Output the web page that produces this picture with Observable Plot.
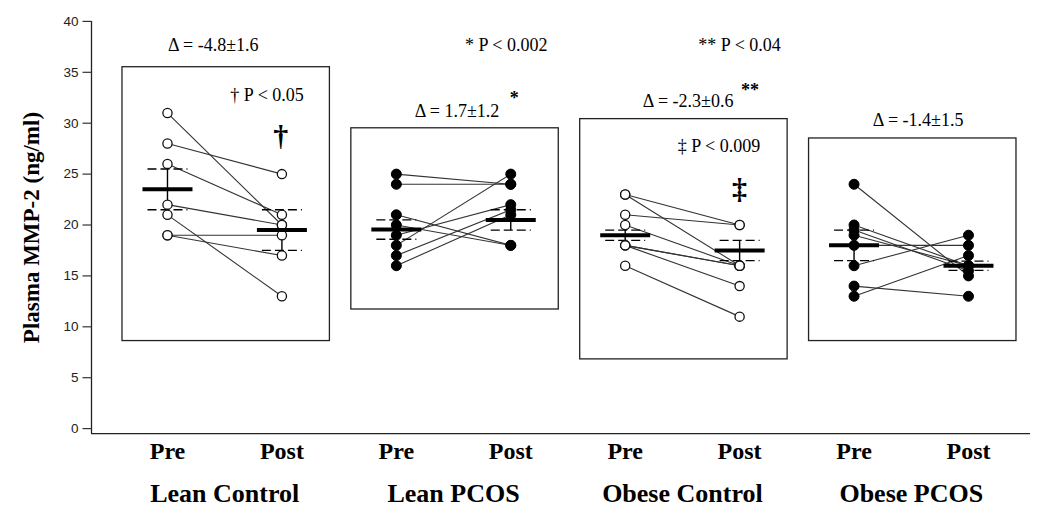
<!DOCTYPE html>
<html><head><meta charset="utf-8">
<script src="https://cdn.jsdelivr.net/npm/d3@7"></script>
<script src="https://cdn.jsdelivr.net/npm/@observablehq/plot@0.6"></script>
<style>
html,body{margin:0;padding:0;background:#fff}
#chart svg{display:block}
</style>
</head><body><div id="chart"></div>
<script>
// ---- data ----
const groups = ["Lean Control", "Lean PCOS", "Obese Control", "Obese PCOS"];
const phases = ["Pre", "Post"];
const openMarker = [true, false, true, false];

const lcPre  = [31, 28, 26, 22, 21, 19, 19];
const lcPost = [20, 25, 21, 20, 13, 19, 17];
const lpPre  = [25, 24, 21, 20, 19, 18, 17, 16];
const lpPost = [24, 24, 18, 18, 22, 25, 21.5, 21];
const ocPre  = [23, 23, 21, 20, 18, 18, 18, 16];
const ocPost = [20, 16, 20, 16, 16, 16, 14, 11];
const opPre  = [24, 20, 19.5, 19, 18, 16, 14, 13];
const opPost = [15, 16, 15.5, 16, 18, 19, 13, 17];

const meanPre  = [23.5, 19.55, 19.0, 18.0];
const sePre    = [2.0, 0.95, 0.5, 1.5];
const meanPost = [19.5, 20.5, 17.5, 16.0];
const sePost   = [2.0, 1.0, 1.0, 0.45];

const boxTop    = [35.5, 29.5, 30.4, 28.5];
const boxBottom = [8.6, 11.7, 6.8, 8.6];

const yTicks = [0, 5, 10, 15, 20, 25, 30, 35, 40];

const deltaLabels = ["Δ = -4.8±1.6", "Δ = 1.7±1.2", "Δ = -2.3±0.6", "Δ = -1.4±1.5"];
const noteTexts = ["* P < 0.002", "** P < 0.04", "† P < 0.05", "‡ P < 0.009"];
const superTexts = ["*", "**"];
const bigMarks = ["†", "‡"];

// ---- derived tables ----
const series = [[lcPre, lcPost], [lpPre, lpPost], [ocPre, ocPost], [opPre, opPost]];
const pairs = series.flatMap(([pre, post], g) => pre.map((v, i) => ({g, pre: v, post: post[i], open: openMarker[g]})));
const points = pairs.flatMap(d => [
  {slot: 2 * d.g, v: d.pre, open: d.open},
  {slot: 2 * d.g + 1, v: d.post, open: d.open}
]);
const stats = groups.flatMap((name, g) => [
  {slot: 2 * g, mean: meanPre[g], se: sePre[g]},
  {slot: 2 * g + 1, mean: meanPost[g], se: sePost[g]}
]);
const boxes = groups.map((name, g) => ({g, top: boxTop[g], bottom: boxBottom[g]}));
const phaseLabels = groups.flatMap((name, g) => phases.map((p, k) => ({slot: 2 * g + k, text: p})));
const groupLabels = groups.map((name, g) => ({slot: 2 * g + 0.5, text: name}));

// annotation placement (slot units, value units)
const deltaNotes = [
  {s: 0.40, v: 37.65, text: deltaLabels[0]},
  {s: 2.53, v: 31.2, text: deltaLabels[1]},
  {s: 4.55, v: 32.2, text: deltaLabels[2]},
  {s: 6.56, v: 30.3, text: deltaLabels[3]}
];
const pNotes = [
  {s: 2.96, v: 37.65, text: noteTexts[0]},
  {s: 5.0, v: 37.65, text: noteTexts[1]},
  {s: 0.87, v: 32.7, text: noteTexts[2]},
  {s: 4.82, v: 27.7, text: noteTexts[3]}
];
const supNotes = [
  {s: 3.03, v: 32.5, text: superTexts[0]},
  {s: 5.09, v: 33.2, text: superTexts[1]}
];
const bigNotes = [
  {s: 0.99, v: 28.7, text: bigMarks[0]},
  {s: 5.0, v: 23.5, text: bigMarks[1]}
];

const SLOT_PX = 114.43;
const half = px => px / SLOT_PX;
const serif = "Liberation Serif, Times New Roman, serif";
const xMin = -0.664;

const chart = Plot.plot({
  width: 1050,
  height: 524,
  marginLeft: 91,
  marginRight: 20,
  marginTop: 20.9,
  marginBottom: 90.8,
  x: {type: "linear", domain: [xMin, 7.542], axis: null},
  y: {domain: [-0.5, 40], axis: null},
  style: {background: "white", fontFamily: serif, color: "black"},
  marks: [
    Plot.rect(boxes, {x1: d => 2 * d.g, x2: d => 2 * d.g + 1, y1: "bottom", y2: "top",
      insetLeft: -45, insetRight: -48, fill: "none", stroke: "#222", strokeWidth: 1.3}),
    Plot.link(pairs, {x1: d => 2 * d.g, x2: d => 2 * d.g + 1, y1: "pre", y2: "post",
      stroke: "#333", strokeWidth: 1.1}),
    Plot.link(stats, {x1: "slot", x2: "slot", y1: d => d.mean - d.se, y2: d => d.mean + d.se,
      stroke: "black", strokeWidth: 1.4}),
    Plot.link(stats, {x1: d => d.slot - half(20), x2: d => d.slot + half(20), y1: d => d.mean + d.se, y2: d => d.mean + d.se,
      stroke: "black", strokeWidth: 1.3, strokeDasharray: "9,4"}),
    Plot.link(stats, {x1: d => d.slot - half(20), x2: d => d.slot + half(20), y1: d => d.mean - d.se, y2: d => d.mean - d.se,
      stroke: "black", strokeWidth: 1.3, strokeDasharray: "9,4"}),
    Plot.dot(points.filter(d => d.open), {x: "slot", y: "v", r: 4.6, fill: "white", stroke: "#111", strokeWidth: 1.3}),
    Plot.dot(points.filter(d => !d.open), {x: "slot", y: "v", r: 5, fill: "black", stroke: "black", strokeWidth: 1}),
    Plot.link(stats, {x1: d => d.slot - half(25), x2: d => d.slot + half(25), y1: "mean", y2: "mean",
      stroke: "black", strokeWidth: 4}),
    Plot.ruleX([xMin], {stroke: "#222", strokeWidth: 1.3}),
    Plot.ruleY([-0.5], {stroke: "#222", strokeWidth: 1.3}),
    // y ticks and tick labels
    Plot.link(yTicks, {x1: xMin - half(9), x2: xMin, y1: d => d, y2: d => d, stroke: "#333", strokeWidth: 1.2}),
    Plot.text(yTicks, {x: xMin, y: d => d, text: d => String(d), textAnchor: "end", dx: -13,
      fontSize: 13.5, fontFamily: "Liberation Sans, DejaVu Sans, sans-serif", fill: "#222"}),
    Plot.text(["Plasma MMP-2 (ng/ml)"], {frameAnchor: "left", textAnchor: "middle", rotate: -90, dx: -60, fontSize: 23,
      fontWeight: "bold", fontFamily: serif, fill: "black"}),
    Plot.text(phaseLabels, {x: "slot", text: "text", frameAnchor: "bottom", dy: 25, fontSize: 24,
      fontWeight: "bold", fontFamily: serif, fill: "black"}),
    Plot.text(groupLabels, {x: "slot", text: "text", frameAnchor: "bottom", dy: 68, fontSize: 26,
      fontWeight: "bold", fontFamily: serif, fill: "black"}),
    Plot.text(deltaNotes, {x: "s", y: "v", text: "text", fontSize: 18, fontFamily: serif, fill: "black"}),
    Plot.text(pNotes, {x: "s", y: "v", text: "text", fontSize: 18, fontFamily: serif, fill: "black"}),
    Plot.text(supNotes, {x: "s", y: "v", text: "text", fontSize: 18, fontWeight: "bold", fontFamily: serif, fill: "black"}),
    Plot.text(bigNotes, {x: "s", y: "v", text: "text", fontSize: 30, fontWeight: "bold", fontFamily: serif, fill: "black"})
  ]
});
document.getElementById("chart").appendChild(chart);
</script>
</body></html>
